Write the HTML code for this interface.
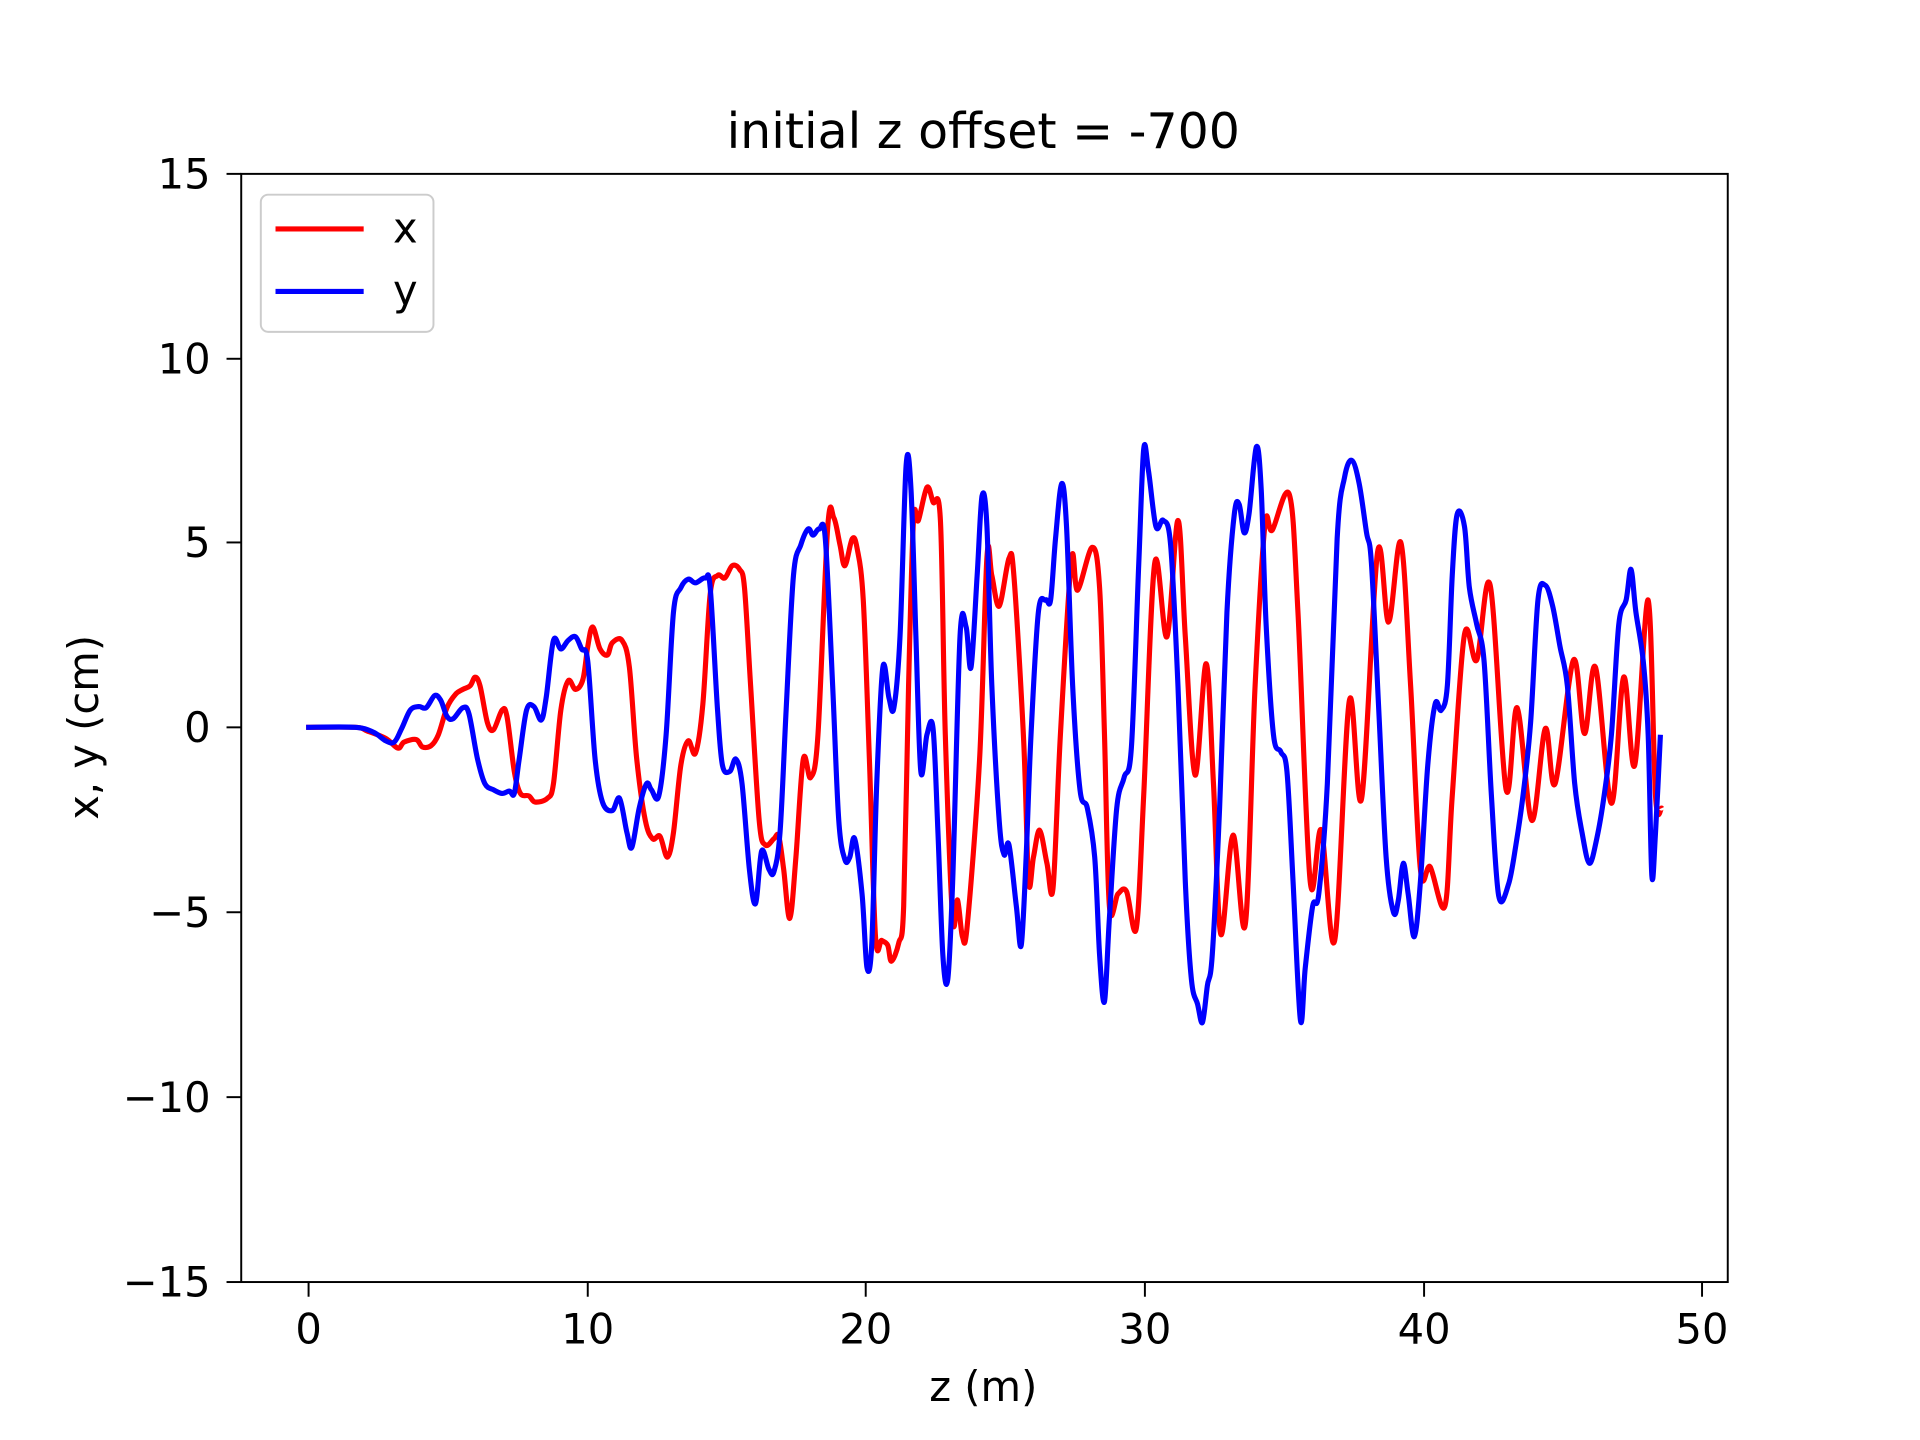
<!DOCTYPE html>
<html><head><meta charset="utf-8"><style>
html,body{margin:0;padding:0;background:#fff;}
svg{display:block;}
text{font-family:"DejaVu Sans","Liberation Sans",sans-serif;fill:#000;}
</style></head><body>
<svg id="s" width="1920" height="1440" viewBox="0 0 1568 1176" xmlns="http://www.w3.org/2000/svg">
<rect x="0" y="0" width="1568" height="1176" fill="#fff"/>
<g id="curves"></g>
<rect x="197" y="142" width="1214" height="905" fill="none" stroke="#000" stroke-width="1.6"/>
<g stroke="#000" stroke-width="1.6">
<line x1="252" y1="1047" x2="252" y2="1059"/><line x1="480" y1="1047" x2="480" y2="1059"/>
<line x1="707" y1="1047" x2="707" y2="1059"/><line x1="935" y1="1047" x2="935" y2="1059"/>
<line x1="1163" y1="1047" x2="1163" y2="1059"/><line x1="1390" y1="1047" x2="1390" y2="1059"/>
<line x1="185" y1="142" x2="197" y2="142"/><line x1="185" y1="293" x2="197" y2="293"/>
<line x1="185" y1="443" x2="197" y2="443"/><line x1="185" y1="594" x2="197" y2="594"/>
<line x1="185" y1="745" x2="197" y2="745"/><line x1="185" y1="896" x2="197" y2="896"/>
<line x1="185" y1="1047" x2="197" y2="1047"/>
</g>
<g font-size="34" text-anchor="middle">
<text x="252" y="1097">0</text><text x="480" y="1097">10</text><text x="707" y="1097">20</text>
<text x="935" y="1097">30</text><text x="1163" y="1097">40</text><text x="1390" y="1097">50</text>
</g>
<g font-size="34" text-anchor="end">
<text x="172" y="154">15</text><text x="172" y="305">10</text><text x="172" y="455">5</text>
<text x="172" y="606">0</text><text x="172" y="757">−5</text><text x="172" y="908">−10</text>
<text x="172" y="1059">−15</text>
</g>
<text x="803" y="1144" font-size="34" text-anchor="middle">z (m)</text>
<text transform="translate(80,594) rotate(-90)" font-size="34" text-anchor="middle">x, y (cm)</text>
<text x="803" y="121" font-size="40" text-anchor="middle">initial z offset = -700</text>
<rect x="213" y="159" width="141" height="112" rx="6" fill="#fff" fill-opacity="0.8" stroke="#ccc" stroke-width="1.6"/>
<line x1="225" y1="187" x2="297" y2="187" stroke="#ff0000" stroke-width="4.2"/>
<line x1="225" y1="238" x2="297" y2="238" stroke="#0000ff" stroke-width="4.2"/>
<text x="321" y="198" font-size="34">x</text>
<text x="321" y="249" font-size="34">y</text>
</svg>
<script>
var red=[[250,594],[290,594],[300,597],[315,603],[325,611],[330,606],[340,604],[345,610],[352,609],[358,600],[365,578],[372,567],[378,563],[384,560],[388,553],[392,560],[398,590],[403,596],[410,580],[414,585],[420,630],[425,648],[432,650],[437,655],[447,652],[452,640],[458,580],[464,556],[470,563],[476,555],[480,528],[484,512],[490,530],[496,535],[500,525],[508,523],[514,545],[520,620],[527,670],[533,685],[539,683],[545,700],[550,680],[556,625],[562,605],[568,615],[574,575],[580,485],[586,470],[592,472],[598,462],[604,465],[608,480],[613,560],[620,670],[625,690],[632,685],[636,683],[640,710],[645,750],[650,700],[656,620],[662,635],[668,600],[676,430],[681,423],[686,445],[690,462],[696,440],[700,448],[705,490],[710,620],[715,765],[720,768],[725,772],[728,785],[734,770],[738,740],[742,560],[746,425],[750,425],[757,398],[762,410],[768,425],[772,600],[778,750],[782,735],[786,765],[790,755],[800,620],[806,455],[810,470],[816,495],[824,456],[828,470],[836,605],[840,720],[844,700],[849,678],[855,705],[860,725],[866,600],[875,457],[880,482],[892,447],[898,480],[902,600],[906,740],[913,730],[920,728],[928,758],[934,650],[943,460],[953,520],[962,425],[968,520],[976,633],[985,542],[991,640],[997,763],[1007,682],[1017,755],[1025,560],[1033,429],[1039,433],[1053,404],[1060,500],[1070,720],[1079,678],[1090,768],[1102,572],[1112,652],[1125,451],[1134,508],[1144,443],[1152,560],[1160,710],[1168,708],[1180,740],[1186,650],[1196,518],[1206,539],[1217,478],[1230,645],[1239,578],[1251,670],[1262,595],[1270,640],[1285,539],[1294,599],[1303,545],[1316,656],[1326,553],[1335,625],[1346,490],[1352,650],[1357,660]];
var blue=[[250,594],[290,594],[305,598],[315,605],[322,606],[328,595],[335,580],[342,577],[348,578],[355,568],[360,572],[365,585],[370,587],[378,578],[383,583],[390,620],[396,640],[403,645],[410,648],[416,646],[420,648],[424,620],[430,580],[436,577],[442,588],[446,570],[452,523],[458,530],[464,523],[470,520],[475,530],[480,540],[486,620],[492,655],[500,662],[506,652],[512,680],[516,692],[522,660],[528,640],[532,645],[538,650],[544,600],[550,500],[556,480],[562,473],[568,476],[576,472],[580,480],[586,580],[590,625],[596,630],[601,620],[606,640],[612,710],[617,738],[622,695],[628,710],[632,712],[637,680],[642,580],[648,470],[654,445],[660,432],[664,437],[669,432],[674,440],[680,560],[685,670],[690,702],[694,700],[698,685],[704,730],[708,790],[712,770],[716,640],[721,545],[726,570],[730,578],[735,520],[740,380],[744,400],[748,520],[752,630],[757,600],[762,595],[766,680],[770,780],[774,800],[778,720],[784,520],[789,512],[793,545],[798,470],[802,405],[806,430],[810,560],[816,670],[820,698],[824,690],[830,740],[834,772],[838,700],[842,600],[848,500],[854,490],[858,490],[862,440],[867,395],[871,430],[876,560],[882,645],[888,660],[894,700],[898,780],[902,818],[906,750],[912,660],[918,635],[924,610],[930,460],[934,367],[938,385],[944,430],[950,425],[956,445],[962,560],[968,720],[973,800],[978,820],[982,835],[986,805],[990,780],[996,660],[1002,500],[1008,420],[1012,412],[1016,435],[1020,420],[1026,365],[1030,400],[1034,510],[1040,600],[1046,614],[1051,630],[1056,720],[1062,833],[1066,790],[1072,740],[1077,730],[1084,640],[1092,440],[1098,390],[1104,376],[1110,395],[1116,435],[1120,460],[1126,580],[1132,700],[1138,745],[1142,735],[1146,705],[1150,730],[1155,765],[1160,720],[1166,625],[1172,575],[1177,580],[1182,560],[1186,470],[1190,420],[1196,430],[1200,480],[1206,510],[1212,540],[1218,650],[1224,732],[1232,722],[1238,690],[1244,648],[1250,590],[1256,490],[1262,478],[1268,495],[1274,528],[1280,560],[1286,640],[1292,680],[1298,705],[1304,685],[1310,650],[1316,600],[1322,510],[1328,490],[1332,465],[1336,500],[1342,540],[1346,600],[1349,715],[1352,680],[1356,600]];
function path(p){var d="M"+p[0][0]+","+p[0][1];for(var i=0;i<p.length-1;i++){var p0=p[i>0?i-1:0],p1=p[i],p2=p[i+1],p3=p[i+2<p.length?i+2:i+1];
var c1x=p1[0]+(p2[0]-p0[0])/6,c1y=p1[1]+(p2[1]-p0[1])/6,c2x=p2[0]-(p3[0]-p1[0])/6,c2y=p2[1]-(p3[1]-p1[1])/6;
d+=" C"+c1x.toFixed(1)+","+c1y.toFixed(1)+" "+c2x.toFixed(1)+","+c2y.toFixed(1)+" "+p2[0]+","+p2[1];}return d;}
var g=document.getElementById("curves"),ns="http://www.w3.org/2000/svg";
[[red,"#ff0000"],[blue,"#0000ff"]].forEach(function(a){var e=document.createElementNS(ns,"path");e.setAttribute("d",path(a[0]));e.setAttribute("fill","none");e.setAttribute("stroke",a[1]);e.setAttribute("stroke-width","4.2");e.setAttribute("stroke-linejoin","round");g.appendChild(e);});
</script>
</body></html>
